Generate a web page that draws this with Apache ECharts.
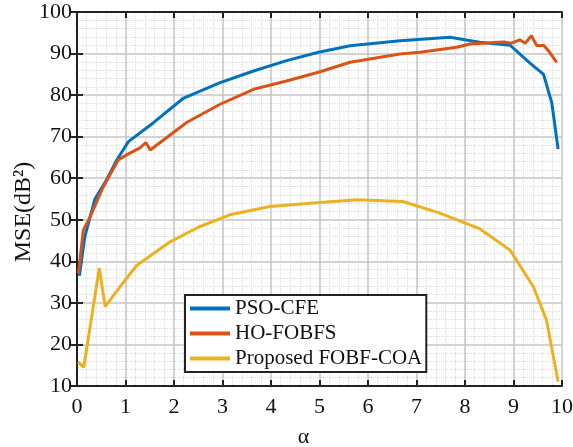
<!DOCTYPE html>
<html>
<head>
<meta charset="utf-8">
<script src="https://cdn.jsdelivr.net/npm/echarts@6/dist/echarts.min.js"></script>
<style>
  html, body { margin: 0; padding: 0; background: #fff; }
  #main { width: 573px; height: 447px; }
</style>
</head>
<body>
<div id="main"></div>
<script type="text/javascript">

// values
var psoAlpha = [0.05, 0.16, 0.37, 0.61, 0.82, 1.06, 1.57, 2.2, 2.95, 3.64, 4.32, 4.98, 5.63, 6.66, 7.69, 8.3, 8.93, 9.34, 9.62, 9.79, 9.92];
var psoMse   = [36.5, 45.9, 55.0, 59.6, 64.4, 68.8, 73.3, 79.3, 83.0, 85.8, 88.3, 90.3, 91.9, 93.1, 93.9, 92.7, 92.0, 87.7, 85.0, 78.1, 67.0];

var hoAlpha = [0.03, 0.13, 0.27, 0.54, 0.85, 1.05, 1.30, 1.42, 1.51, 1.92, 2.26, 2.95, 3.64, 4.32, 4.98, 5.63, 6.66, 7.07, 7.83, 8.1, 8.79, 8.96, 9.13, 9.24, 9.37, 9.48, 9.62, 9.72, 9.89];
var hoMse   = [37.1, 47.5, 50.7, 57.9, 64.4, 65.8, 67.3, 68.6, 66.8, 70.4, 73.4, 77.8, 81.4, 83.4, 85.5, 87.9, 89.9, 90.3, 91.5, 92.3, 92.8, 92.5, 93.3, 92.5, 94.3, 91.9, 92.0, 90.7, 87.9];

var coaAlpha = [0.02, 0.14, 0.46, 0.58, 0.89, 1.23, 1.92, 2.5, 3.15, 3.98, 4.94, 5.77, 6.72, 7.48, 8.31, 8.93, 9.41, 9.68, 9.92];
var coaMse   = [15.8, 14.5, 38.4, 29.1, 33.9, 39.0, 44.7, 48.2, 51.2, 53.2, 54.1, 54.8, 54.4, 51.6, 47.8, 42.7, 33.9, 25.9, 11.0];

var seriesNames = ['PSO-CFE', 'HO-FOBFS', 'Proposed FOBF-COA'];
var seriesColors = ['#0072BD', '#D95319', '#EDB120'];

function zip(xs, ys) {
    var out = [];
    for (var i = 0; i < xs.length; i++) {
        out.push([xs[i], ys[i]]);
    }
    return out;
}

var font = '"Liberation Serif", "Times New Roman", serif';
var chart = echarts.init(document.getElementById('main'));

var gridLine = { show: true, lineStyle: { color: '#c4c4c4', width: 1.5 } };
var minorLine = { show: true, lineStyle: { color: '#dcdcdc', width: 1, type: 'dotted' } };

function lineSeries(i, data) {
    return {
        name: seriesNames[i],
        type: 'line',
        data: data,
        symbol: 'none',
        lineStyle: { color: seriesColors[i], width: 3 },
        itemStyle: { color: seriesColors[i] }
    };
}

var option = {
    backgroundColor: '#fff',
    animation: false,
    textStyle: { fontFamily: font },
    grid: { left: 77, right: 11, top: 12, bottom: 61, outerBoundsMode: 'none', containLabel: false },
    legend: {
        orient: 'vertical',
        left: 185,
        top: 295,
        padding: [1, 4, 1, 5],
        icon: 'rect',
        itemWidth: 40,
        itemHeight: 4,
        itemGap: 0,
        backgroundColor: '#fff',
        borderColor: '#222',
        borderWidth: 2,
        borderRadius: 0,
        textStyle: { fontFamily: font, fontSize: 21, color: '#111', lineHeight: 25 },
        data: seriesNames
    },
    xAxis: [{
        type: 'value',
        min: 0, max: 10, interval: 1,
        name: 'α',
        nameLocation: 'middle',
        nameGap: 40,
        nameMoveOverlap: false,
        nameTextStyle: { fontFamily: font, fontSize: 22, color: '#111', padding: [0, 32, 0, 0] },
        axisLine: { show: true, lineStyle: { color: '#222', width: 2 } },
        axisTick: { show: true, inside: true, length: 6, lineStyle: { color: '#222', width: 2 } },
        axisLabel: { fontFamily: font, fontSize: 22, color: '#111', margin: 10 },
        splitLine: gridLine,
        minorTick: { show: true, splitNumber: 5, length: 0 },
        minorSplitLine: minorLine
    }, {
        type: 'value',
        position: 'top',
        min: 0, max: 10, interval: 1,
        axisLine: { show: true, lineStyle: { color: '#222', width: 2 } },
        axisTick: { show: true, inside: true, length: 6, lineStyle: { color: '#222', width: 2 } },
        axisLabel: { show: false },
        splitLine: { show: false }
    }],
    yAxis: [{
        type: 'value',
        min: 10, max: 100, interval: 10,
        name: 'MSE(dB²)',
        nameLocation: 'middle',
        nameGap: 41,
        nameMoveOverlap: false,
        nameTextStyle: { fontFamily: font, fontSize: 24, color: '#111', padding: [0, 26, 0, 0] },
        axisLine: { show: true, lineStyle: { color: '#222', width: 2 } },
        axisTick: { show: true, inside: true, length: 6, lineStyle: { color: '#222', width: 2 } },
        axisLabel: { fontFamily: font, fontSize: 22, color: '#111', margin: 5 },
        splitLine: gridLine,
        minorTick: { show: true, splitNumber: 5, length: 0 },
        minorSplitLine: minorLine
    }, {
        type: 'value',
        position: 'right',
        min: 10, max: 100, interval: 10,
        axisLine: { show: true, lineStyle: { color: '#222', width: 2 } },
        axisTick: { show: true, inside: true, length: 6, lineStyle: { color: '#222', width: 2 } },
        axisLabel: { show: false },
        splitLine: { show: false }
    }],
    series: [
        lineSeries(0, zip(psoAlpha, psoMse)),
        lineSeries(1, zip(hoAlpha, hoMse)),
        lineSeries(2, zip(coaAlpha, coaMse))
    ]
};

chart.setOption(option);
</script>
</body>
</html>
